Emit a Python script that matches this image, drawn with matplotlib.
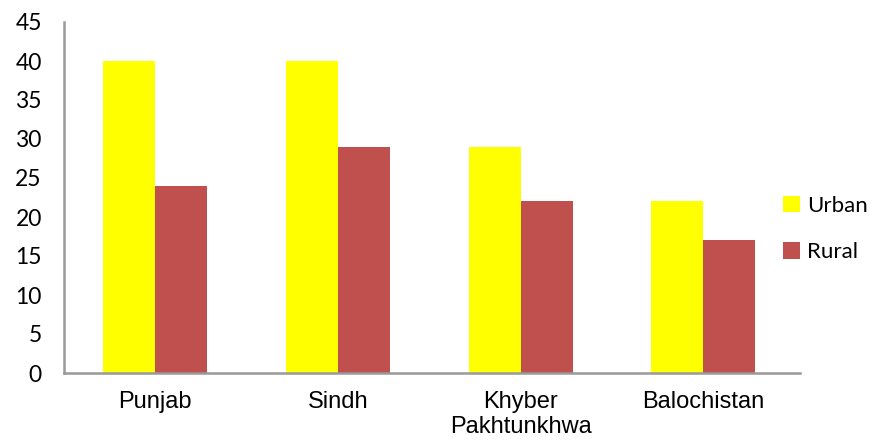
import matplotlib.pyplot as plt
import numpy as np

provinces = ['Punjab', 'Sindh', 'Khyber\nPakhtunkhwa', 'Balochistan']
urban = [40, 40, 29, 22]
rural = [24, 29, 22, 17]
yticks = [0, 5, 10, 15, 20, 25, 30, 35, 40, 45]


def main():
    fig = plt.figure(figsize=(8.74, 4.45), dpi=100)
    ax = fig.add_axes([64 / 874, 1 - 373 / 445, 736 / 874, 351 / 445])
    x = np.arange(len(provinces))
    w = 0.285
    ax.bar(x - w / 2, urban, w, color='#ffff00', label='Urban')
    ax.bar(x + w / 2, rural, w, color='#c0504d', label='Rural')
    ax.set_xlim(-0.5, 3.53)
    ax.set_ylim(0, 45)
    ax.set_yticks(yticks)
    ax.set_yticklabels([str(v) for v in yticks], fontsize=16.5, family='Lato')
    ax.set_xticks(x)
    ax.set_xticklabels(provinces, fontsize=17, family='Liberation Sans',
                       linespacing=1.15)
    ax.tick_params(axis='y', length=0, pad=16)
    ax.tick_params(axis='x', length=0, pad=13)
    for s in ['top', 'right']:
        ax.spines[s].set_visible(False)
    for s in ['left', 'bottom']:
        ax.spines[s].set_color('#999999')
        ax.spines[s].set_linewidth(1.8)
    fig.legend(loc='center left', bbox_to_anchor=(783 / 874, 1 - 229 / 445),
               frameon=False, prop={'family': 'Lato', 'size': 16},
               handlelength=0.75, handleheight=0.75, handletextpad=0.35,
               labelspacing=1.2, borderpad=0, borderaxespad=0)
    fig.savefig('out.png', dpi=100)


if __name__ == '__main__':
    main()
